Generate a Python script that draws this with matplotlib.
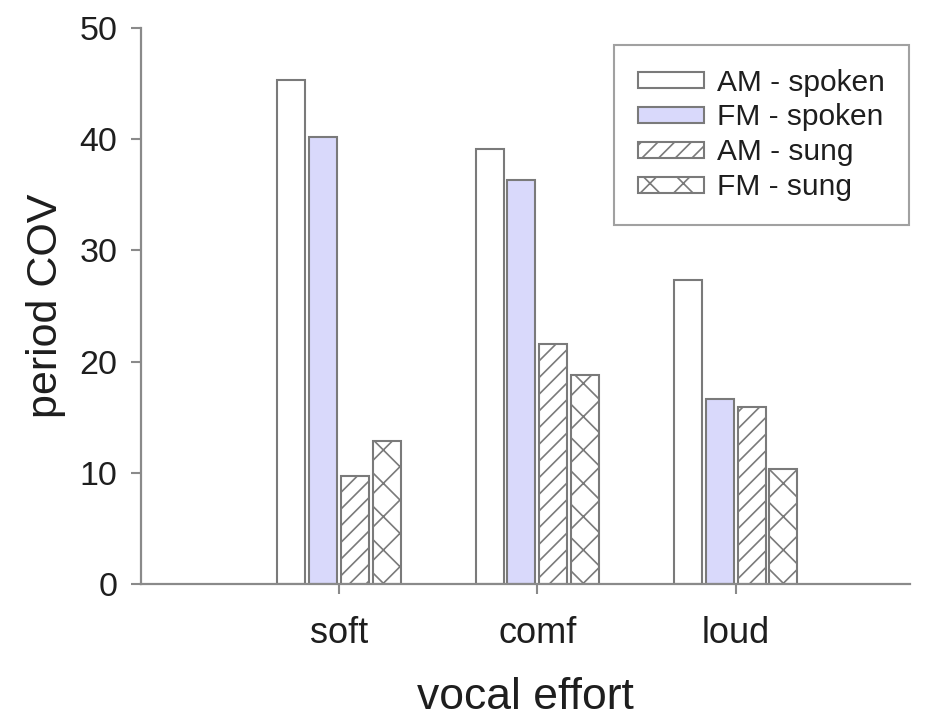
import numpy as np
import matplotlib
matplotlib.use("Agg")
import matplotlib.pyplot as plt

plt.rcParams['font.family'] = ['Liberation Sans', 'DejaVu Sans']
plt.rcParams['hatch.linewidth'] = 1.2

# period COV per vocal effort level
efforts = ['soft', 'comf', 'loud']
am_spoken = [45.3, 39.1, 27.3]
fm_spoken = [40.2, 36.3, 16.6]
am_sung = [9.7, 21.6, 15.9]
fm_sung = [12.9, 18.8, 10.3]

series = [
    ('AM - spoken', am_spoken, 'white', ''),
    ('FM - spoken', fm_spoken, '#d9d9fb', ''),
    ('AM - sung', am_sung, 'white', '//'),
    ('FM - sung', fm_sung, 'white', 'x'),
]

edge = '#7a7a7a'
spine_col = '#8a8a8a'
text_col = '#1e1e1e'

fig = plt.figure(figsize=(9.26, 7.19), dpi=100)
ax = fig.add_axes([0.1523, 0.1878, 0.8304, 0.7732])

x = np.arange(1, len(efforts) + 1)
width = 0.141
step = 0.161

for i, (label, vals, fc, hatch) in enumerate(series):
    offset = (i - 1.5) * step
    ax.bar(x + offset, vals, width, color=fc, edgecolor=edge, linewidth=1.5,
           hatch=hatch, label=label)

ax.set_xlim(0, 3.88)
ax.set_ylim(0, 50)
ax.set_yticks([0, 10, 20, 30, 40, 50])
ax.set_xticks(x)
ax.set_xticklabels(efforts)

for side in ['top', 'right']:
    ax.spines[side].set_visible(False)
for side in ['left', 'bottom']:
    ax.spines[side].set_color(spine_col)
    ax.spines[side].set_linewidth(1.6)

ax.tick_params(axis='y', direction='out', length=7, width=1.5, color=spine_col,
               labelsize=24.5, pad=10, labelcolor=text_col)
ax.tick_params(axis='x', direction='out', length=7, width=1.5, color=spine_col,
               labelsize=26, pad=16, labelcolor=text_col)

ax.set_xlabel('vocal effort', fontsize=32, labelpad=19, color=text_col)
ax.set_ylabel('period COV', fontsize=31, labelpad=10, color=text_col)

leg = ax.legend(loc='upper right', bbox_to_anchor=(0.999, 0.97), borderaxespad=0,
                fontsize=21.5, frameon=True, fancybox=False, handlelength=2.2,
                handleheight=0.45, handletextpad=0.45, labelspacing=0.23,
                borderpad=0.8)
leg.get_frame().set_edgecolor(spine_col)
leg.get_frame().set_linewidth(1.5)
for t in leg.get_texts():
    t.set_color(text_col)

plt.savefig('out.png', dpi=100)
